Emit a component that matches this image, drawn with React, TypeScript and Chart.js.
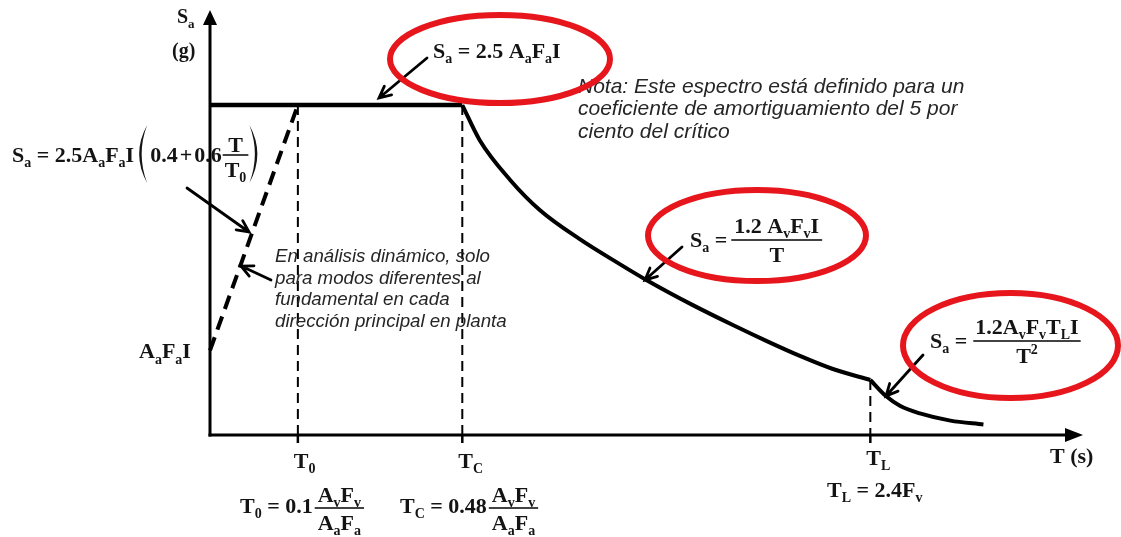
import React, { useEffect, useRef } from "react";
import { Chart, registerables } from "chart.js";

Chart.register(...registerables);

// Characteristic periods (schematic units on the T axis) and spectral ordinates
const T0 = 1.01;
const TC = 2.9;
const TL = 7.59;
const SA_MAX = 7.8;
const SA_INTERCEPT = 2.0;

// Rising branch (dashed), plateau, 1/T branch and 1/T² branch
const rampT = [0, T0];
const rampSa = [SA_INTERCEPT, SA_MAX];
const plateauT = [0, TC];
const plateauSa = [SA_MAX, SA_MAX];
const descT = [2.9, 3.1, 3.45, 3.79, 4.25, 4.71, 5.02, 5.55, 6.01, 6.4, 6.78, 7.16, 7.59];
const descSa = [7.8, 6.97, 6.03, 5.32, 4.63, 4.04, 3.66, 3.07, 2.6, 2.22, 1.87, 1.56, 1.3];
const tailT = [7.59, 7.77, 7.93, 8.16, 8.51, 8.89];
const tailSa = [1.3, 0.92, 0.69, 0.51, 0.34, 0.25];

// Vertical guides at T0, TC, TL
const guideT = [T0, TC, TL];
const guideTop = [SA_MAX, SA_MAX, 1.3];

// Text
const AXIS_Y_LABEL = "S_{a}";
const AXIS_Y_UNIT = "(g)";
const AXIS_X_LABEL = "T (s)";
const INTERCEPT_LABEL = "A_{a}F_{a}I";
const TICK_LABELS = ["T_{0}", "T_{C}", "T_{L}"];
const NOTE_LINES = [
  "Nota: Este espectro está definido para un",
  "coeficiente de amortiguamiento del 5 por",
  "ciento del crítico",
];
const DYN_LINES = [
  "En análisis dinámico, solo",
  "para modos diferentes al",
  "fundamental en cada",
  "dirección principal en planta",
];

const INK = "#141414";
const RED = "#e6161c";
const SERIF = '"Liberation Serif", "Times New Roman", serif';
const SANS = '"Liberation Sans", Arial, sans-serif';
const FS = 22;

type Run = { t: string; k: number };

function parseRuns(s: string): Run[] {
  const runs: Run[] = [];
  let buf = "";
  let i = 0;
  while (i < s.length) {
    const c = s[i];
    if ((c === "_" || c === "^") && s[i + 1] === "{") {
      if (buf) runs.push({ t: buf, k: 0 });
      buf = "";
      const end = s.indexOf("}", i);
      runs.push({ t: s.slice(i + 2, end), k: c === "_" ? 1 : 2 });
      i = end + 1;
    } else {
      buf += c;
      i++;
    }
  }
  if (buf) runs.push({ t: buf, k: 0 });
  return runs;
}

function runFont(k: number, size: number) {
  const s = k ? Math.round(size * 0.64) : size;
  return `bold ${s}px ${SERIF}`;
}

function measureRich(ctx: CanvasRenderingContext2D, s: string, size = FS) {
  let w = 0;
  for (const r of parseRuns(s)) {
    ctx.font = runFont(r.k, size);
    w += ctx.measureText(r.t).width;
  }
  return w;
}

function drawRich(ctx: CanvasRenderingContext2D, s: string, x: number, y: number, size = FS) {
  ctx.textAlign = "left";
  ctx.textBaseline = "alphabetic";
  ctx.fillStyle = INK;
  let cx = x;
  for (const r of parseRuns(s)) {
    ctx.font = runFont(r.k, size);
    const dy = r.k === 1 ? size * 0.24 : r.k === 2 ? -size * 0.42 : 0;
    ctx.fillText(r.t, cx, y + dy);
    cx += ctx.measureText(r.t).width;
  }
  return cx;
}

function drawFrac(
  ctx: CanvasRenderingContext2D,
  num: string,
  den: string,
  x: number,
  barY: number,
  size = FS,
  pad = 3,
  numLift = 7
) {
  const wn = measureRich(ctx, num, size);
  const wd = measureRich(ctx, den, size);
  const w = Math.max(wn, wd) + pad * 2;
  ctx.fillStyle = INK;
  ctx.fillRect(x, barY - 0.8, w, 1.6);
  drawRich(ctx, num, x + (w - wn) / 2, barY - numLift, size);
  drawRich(ctx, den, x + (w - wd) / 2, barY + 22, size);
  return x + w;
}

function bigParen(ctx: CanvasRenderingContext2D, x: number, top: number, bottom: number, open: boolean) {
  const mid = (top + bottom) / 2;
  const s = open ? -1 : 1;
  ctx.beginPath();
  ctx.moveTo(x, top);
  ctx.quadraticCurveTo(x + s * 16, mid, x, bottom);
  ctx.quadraticCurveTo(x + s * 11, mid, x, top);
  ctx.closePath();
  ctx.fillStyle = INK;
  ctx.fill();
}

function arrow(ctx: CanvasRenderingContext2D, x1: number, y1: number, x2: number, y2: number) {
  const a = Math.atan2(y2 - y1, x2 - x1);
  const h = 13;
  const spread = 0.45;
  ctx.save();
  ctx.strokeStyle = "#000";
  ctx.lineWidth = 2.8;
  ctx.lineCap = "round";
  ctx.beginPath();
  ctx.moveTo(x1, y1);
  ctx.lineTo(x2, y2);
  ctx.moveTo(x2 - h * Math.cos(a - spread), y2 - h * Math.sin(a - spread));
  ctx.lineTo(x2, y2);
  ctx.lineTo(x2 - h * Math.cos(a + spread), y2 - h * Math.sin(a + spread));
  ctx.stroke();
  ctx.restore();
}

function ellipse(ctx: CanvasRenderingContext2D, cx: number, cy: number, rx: number, ry: number) {
  ctx.save();
  ctx.strokeStyle = RED;
  ctx.lineWidth = 6;
  ctx.beginPath();
  ctx.ellipse(cx, cy, rx, ry, 0, 0, Math.PI * 2);
  ctx.stroke();
  ctx.restore();
}

const axesPlugin = {
  id: "spectrumAxes",
  beforeDatasetsDraw(chart: Chart) {
    const { ctx, chartArea } = chart;
    const xs = chart.scales.x;
    const ys = chart.scales.y;
    const x0 = xs.getPixelForValue(0);
    const y0 = ys.getPixelForValue(0);
    ctx.save();
    ctx.strokeStyle = "#000";
    ctx.fillStyle = "#000";
    ctx.lineWidth = 3;
    // vertical axis with arrow
    ctx.beginPath();
    ctx.moveTo(x0, y0 + 1.5);
    ctx.lineTo(x0, chartArea.top + 12);
    ctx.stroke();
    ctx.beginPath();
    ctx.moveTo(x0, chartArea.top - 2);
    ctx.lineTo(x0 - 7, chartArea.top + 13);
    ctx.lineTo(x0 + 7, chartArea.top + 13);
    ctx.closePath();
    ctx.fill();
    // horizontal axis with arrow
    ctx.beginPath();
    ctx.moveTo(x0 - 1.5, y0);
    ctx.lineTo(chartArea.right - 14, y0);
    ctx.stroke();
    ctx.beginPath();
    ctx.moveTo(chartArea.right + 3, y0);
    ctx.lineTo(chartArea.right - 15, y0 - 7);
    ctx.lineTo(chartArea.right - 15, y0 + 7);
    ctx.closePath();
    ctx.fill();
    // tick marks under the axis at the characteristic periods
    ctx.lineWidth = 2.5;
    for (const t of guideT) {
      const px = xs.getPixelForValue(t);
      ctx.beginPath();
      ctx.moveTo(px, y0);
      ctx.lineTo(px, y0 + 8);
      ctx.stroke();
    }
    ctx.restore();
  },
  afterDatasetsDraw(chart: Chart) {
    const { ctx } = chart;
    const xs = chart.scales.x;
    const ys = chart.scales.y;
    const x0 = xs.getPixelForValue(0);
    const y0 = ys.getPixelForValue(0);
    ctx.save();

    // axis titles
    drawRich(ctx, AXIS_Y_LABEL, x0 - 33, 23, 20);
    drawRich(ctx, AXIS_Y_UNIT, x0 - 38, 57, 20);
    drawRich(ctx, AXIS_X_LABEL, 1050, y0 + 28);
    drawRich(ctx, INTERCEPT_LABEL, x0 - 71, ys.getPixelForValue(SA_INTERCEPT) + 8);

    // period labels under the axis
    guideT.forEach((t, i) => {
      const px = xs.getPixelForValue(t);
      drawRich(ctx, TICK_LABELS[i], px - 4, y0 + (i === 2 ? 30 : 33));
    });

    // definitions of the characteristic periods
    let x = drawRich(ctx, "T_{0} = 0.1", 240, 513);
    drawFrac(ctx, "A_{v}F_{v}", "A_{a}F_{a}", x + 2, 508, FS, 3, 6);
    x = drawRich(ctx, "T_{C} = 0.48", 400, 513);
    drawFrac(ctx, "A_{v}F_{v}", "A_{a}F_{a}", x + 2, 508, FS, 3, 6);
    drawRich(ctx, "T_{L} = 2.4F_{v}", 827, 497);

    // rising-branch formula
    x = drawRich(ctx, "S_{a} = 2.5A_{a}F_{a}I", 12, 162);
    bigParen(ctx, x + 13, 125, 183, true);
    x = drawRich(ctx, "0.4", x + 16, 162);
    x = drawRich(ctx, "+", x + 2, 162);
    x = drawRich(ctx, "0.6", x + 2, 162);
    x = drawFrac(ctx, "T", "T_{0}", x + 1, 155, FS, 2, 3);
    bigParen(ctx, x + 1, 125, 183, false);

    // plateau formula
    drawRich(ctx, "S_{a} = 2.5 A_{a}F_{a}I", 433, 58);
    // 1/T branch
    x = drawRich(ctx, "S_{a} =", 690, 247);
    drawFrac(ctx, "1.2 A_{v}F_{v}I", "T", x + 4, 240);
    // 1/T² branch
    x = drawRich(ctx, "S_{a} =", 930, 348);
    drawFrac(ctx, "1.2A_{v}F_{v}T_{L}I", "T^{2}", x + 6, 341, FS, 2, 7);

    // notes
    ctx.fillStyle = "#262626";
    ctx.textAlign = "left";
    ctx.textBaseline = "alphabetic";
    ctx.font = `italic 21px ${SANS}`;
    NOTE_LINES.forEach((l, i) => ctx.fillText(l, 578, 93 + i * 22.3));
    ctx.font = `italic 18.7px ${SANS}`;
    DYN_LINES.forEach((l, i) => ctx.fillText(l, 275, 262 + i * 21.7));

    // pointers
    arrow(ctx, 427, 58, 379, 98);
    arrow(ctx, 187, 188, 249, 232);
    arrow(ctx, 271, 280, 241, 266);
    arrow(ctx, 682, 247, 645, 280);
    arrow(ctx, 923, 355, 886, 396);

    // highlight rings
    ellipse(ctx, 500, 59, 110, 44);
    ellipse(ctx, 757, 235.5, 109, 45.5);
    ellipse(ctx, 1010.5, 345.5, 107.5, 52.5);

    ctx.restore();
  },
};

function pts(xs: number[], ys: number[]) {
  return xs.map((v, i) => ({ x: v, y: ys[i] }));
}

export default function App() {
  const ref = useRef<HTMLCanvasElement>(null);

  useEffect(() => {
    const canvas = ref.current;
    if (!canvas) return;
    const solid = {
      borderColor: "#000",
      borderWidth: 4,
      pointRadius: 0,
      fill: false,
      clip: false as const,
      borderCapStyle: "butt" as const,
      borderJoinStyle: "round" as const,
    };
    const guides = guideT.map((t, i) => ({
      ...solid,
      data: pts([t, t], [guideTop[i], 0]),
      borderWidth: 2,
      borderDash: [10, 6],
    }));
    const chart = new Chart(canvas, {
      type: "line",
      data: {
        datasets: [
          ...guides,
          { ...solid, data: pts(rampT, rampSa), borderDash: [14, 8] },
          { ...solid, data: pts(plateauT, plateauSa), borderWidth: 4.5 },
          { ...solid, data: pts(descT, descSa), cubicInterpolationMode: "monotone" as const },
          { ...solid, data: pts(tailT, tailSa), cubicInterpolationMode: "monotone" as const },
        ],
      },
      options: {
        animation: false,
        responsive: false,
        devicePixelRatio: 1,
        layout: { padding: { left: 210, right: 41, top: 12, bottom: 102 } },
        scales: {
          x: { type: "linear", min: 0, max: 10, display: false },
          y: { type: "linear", min: 0, max: 10, display: false },
        },
        plugins: { legend: { display: false }, tooltip: { enabled: false } },
      },
      plugins: [axesPlugin],
    });
    return () => chart.destroy();
  }, []);

  return (
    <div style={{ position: "fixed", left: 0, top: 0, width: 1121, height: 537, background: "#fff" }}>
      <canvas ref={ref} width={1121} height={537} style={{ display: "block", width: 1121, height: 537 }} />
    </div>
  );
}
